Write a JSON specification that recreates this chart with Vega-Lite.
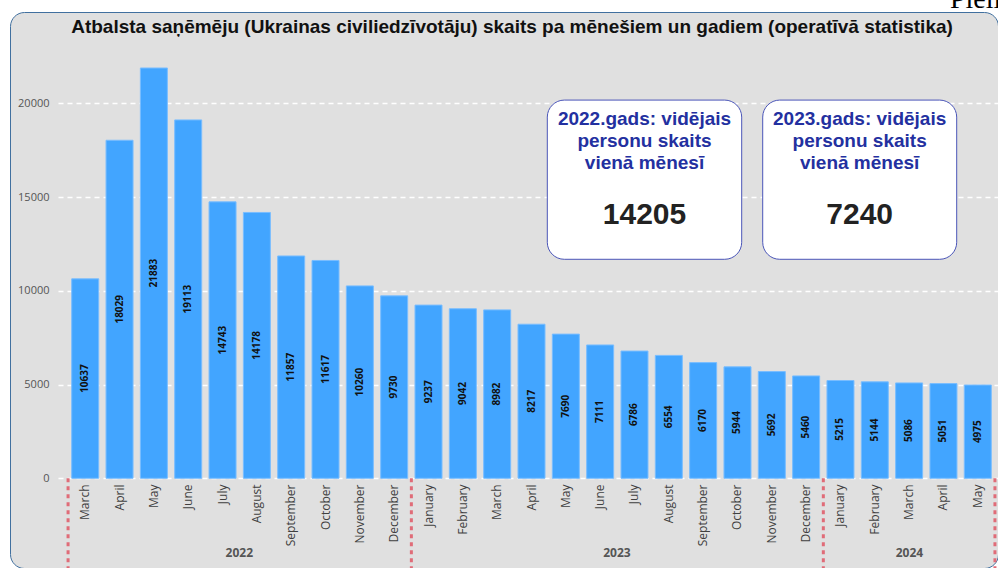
{
  "$schema": "https://vega.github.io/schema/vega-lite/v6.json",
  "width": 988,
  "height": 556,
  "autosize": {"type": "none"},
  "padding": {"left": 10, "top": 12, "right": 0, "bottom": 0},
  "background": "white",
  "title": {
    "text": "Atbalsta saņēmēju (Ukrainas civiliedzīvotāju) skaits pa mēnešiem un gadiem (operatīvā statistika)",
    "font": "Liberation Sans",
    "fontSize": 19,
    "fontWeight": "bold",
    "color": "#111111",
    "anchor": "middle",
    "frame": "group",
    "baseline": "middle",
    "offset": -60,
    "dx": 8
  },
  "config": {
    "view": {"fill": "#e0e0e0", "stroke": "#41709f", "strokeWidth": 1, "cornerRadius": 14}
  },
  "datasets": {
    "months": [
      {"key": "March 2022", "value": 10637},
      {"key": "April 2022", "value": 18029},
      {"key": "May 2022", "value": 21883},
      {"key": "June 2022", "value": 19113},
      {"key": "July 2022", "value": 14743},
      {"key": "August 2022", "value": 14178},
      {"key": "September 2022", "value": 11857},
      {"key": "October 2022", "value": 11617},
      {"key": "November 2022", "value": 10260},
      {"key": "December 2022", "value": 9730},
      {"key": "January 2023", "value": 9237},
      {"key": "February 2023", "value": 9042},
      {"key": "March 2023", "value": 8982},
      {"key": "April 2023", "value": 8217},
      {"key": "May 2023", "value": 7690},
      {"key": "June 2023", "value": 7111},
      {"key": "July 2023", "value": 6786},
      {"key": "August 2023", "value": 6554},
      {"key": "September 2023", "value": 6170},
      {"key": "October 2023", "value": 5944},
      {"key": "November 2023", "value": 5692},
      {"key": "December 2023", "value": 5460},
      {"key": "January 2024", "value": 5215},
      {"key": "February 2024", "value": 5144},
      {"key": "March 2024", "value": 5086},
      {"key": "April 2024", "value": 5051},
      {"key": "May 2024", "value": 4975}
    ]
  },
  "resolve": {"scale": {"y": "independent"}},
  "layer": [
    {
      "layer": [
        {
          "data": {"name": "months"},
          "mark": {"type": "bar", "color": "#42a5ff", "stroke": "#79bdff", "strokeWidth": 1},
          "encoding": {
            "x": {
              "field": "key",
              "type": "ordinal",
              "scale": {
                "domain": ["March 2022", "April 2022", "May 2022", "June 2022", "July 2022", "August 2022", "September 2022", "October 2022", "November 2022", "December 2022", "January 2023", "February 2023", "March 2023", "April 2023", "May 2023", "June 2023", "July 2023", "August 2023", "September 2023", "October 2023", "November 2023", "December 2023", "January 2024", "February 2024", "March 2024", "April 2024", "May 2024"],
                "paddingInner": 0.2135,
                "paddingOuter": 0.9965,
                "align": 0.902
              },
              "axis": {
                "title": null,
                "labelExpr": "split(datum.label, ' ')[0]",
                "labelAngle": -90,
                "labelFont": "Open Sans",
                "labelFontSize": 12,
                "labelColor": "#404040",
                "ticks": false,
                "tickSize": 0,
                "domain": false,
                "grid": false,
                "labelPadding": 6,
                "offset": -90
              }
            },
            "y": {
              "field": "value",
              "type": "quantitative",
              "scale": {"domain": [-4784, 24869], "nice": false, "zero": false},
              "axis": {
                "title": null,
                "values": [0, 5000, 10000, 15000, 20000],
                "format": "d",
                "offset": -48,
                "tickSize": -940,
                "tickColor": "#ffffff",
                "tickDash": [5, 4],
                "tickWidth": 1.5,
                "domain": false,
                "grid": false,
                "labelPadding": 949,
                "labelFont": "Open Sans",
                "labelFontSize": 11,
                "labelColor": "#555555"
              }
            }
          }
        },
        {
          "data": {"values": [{"k": "March 2022"}, {"k": "January 2023"}, {"k": "January 2024"}]},
          "mark": {"type": "rule", "color": "#e06c78", "strokeWidth": 3, "strokeDash": [4, 4]},
          "encoding": {
            "x": {"field": "k", "type": "ordinal", "bandPosition": -0.135, "axis": {"title": null}},
            "y": {"datum": 0, "type": "quantitative", "axis": {"title": null}},
            "y2": {"datum": -4784}
          }
        },
        {
          "data": {"values": [{"k": "May 2024"}]},
          "mark": {"type": "rule", "color": "#e06c78", "strokeWidth": 3, "strokeDash": [4, 4]},
          "encoding": {
            "x": {"field": "k", "type": "ordinal", "bandPosition": 1.135, "axis": {"title": null}},
            "y": {"datum": 0, "type": "quantitative", "axis": {"title": null}},
            "y2": {"datum": -4784}
          }
        },
        {
          "data": {"values": [{"k": "August 2022", "year": "2022"}, {"k": "July 2023", "year": "2023"}]},
          "mark": {"type": "text", "font": "Open Sans", "fontSize": 12, "fontWeight": "bold", "color": "#555555", "baseline": "middle", "align": "center"},
          "encoding": {
            "x": {"field": "k", "type": "ordinal", "bandPosition": -0.15, "axis": {"title": null}},
            "y": {"datum": -3984, "type": "quantitative", "axis": {"title": null}},
            "text": {"field": "year"}
          }
        },
        {
          "data": {"values": [{"k": "March 2024", "year": "2024"}]},
          "mark": {"type": "text", "font": "Open Sans", "fontSize": 12, "fontWeight": "bold", "color": "#555555", "baseline": "middle", "align": "center"},
          "encoding": {
            "x": {"field": "k", "type": "ordinal", "bandPosition": 0.51, "axis": {"title": null}},
            "y": {"datum": -3984, "type": "quantitative", "axis": {"title": null}},
            "text": {"field": "year"}
          }
        },
        {
          "data": {"values": [{"box": "2022"}]},
          "mark": {"type": "rect", "fill": "#ffffff", "stroke": "#4a55b8", "strokeWidth": 1, "cornerRadius": 17},
          "encoding": {
            "x": {"datum": "April 2023", "type": "ordinal", "bandPosition": 1.085, "axis": {"title": null}},
            "x2": {"datum": "October 2023", "bandPosition": 0.656},
            "y": {"datum": 20171, "type": "quantitative", "axis": {"title": null}},
            "y2": {"datum": 11680}
          }
        },
        {
          "data": {"values": [{"box": "2023"}]},
          "mark": {"type": "rect", "fill": "#ffffff", "stroke": "#4a55b8", "strokeWidth": 1, "cornerRadius": 17},
          "encoding": {
            "x": {"datum": "November 2023", "type": "ordinal", "bandPosition": 0.163, "axis": {"title": null}},
            "x2": {"datum": "April 2024", "bandPosition": 0.99},
            "y": {"datum": 20171, "type": "quantitative", "axis": {"title": null}},
            "y2": {"datum": 11680}
          }
        },
        {
          "data": {"values": [{"k": "July 2023", "head": ["2022.gads: vidējais", "personu skaits", "vienā mēnesī"]}]},
          "mark": {"type": "text", "font": "Liberation Sans", "fontSize": 19, "fontWeight": "bold", "color": "#2330a0", "baseline": "middle", "align": "center", "lineHeight": 21.7},
          "encoding": {
            "x": {"field": "k", "type": "ordinal", "bandPosition": 0.87, "axis": {"title": null}},
            "y": {"datum": 19147, "type": "quantitative", "axis": {"title": null}},
            "text": {"field": "head"}
          }
        },
        {
          "data": {"values": [{"k": "July 2023", "avg": "14205"}]},
          "mark": {"type": "text", "font": "Liberation Sans", "fontSize": 30, "fontWeight": "bold", "color": "#222222", "baseline": "middle", "align": "center"},
          "encoding": {
            "x": {"field": "k", "type": "ordinal", "bandPosition": 0.87, "axis": {"title": null}},
            "y": {"datum": 14043, "type": "quantitative", "axis": {"title": null}},
            "text": {"field": "avg"}
          }
        },
        {
          "data": {"values": [{"k": "January 2024", "head": ["2023.gads: vidējais", "personu skaits", "vienā mēnesī"]}]},
          "mark": {"type": "text", "font": "Liberation Sans", "fontSize": 19, "fontWeight": "bold", "color": "#2330a0", "baseline": "middle", "align": "center", "lineHeight": 21.7},
          "encoding": {
            "x": {"field": "k", "type": "ordinal", "bandPosition": 1.21, "axis": {"title": null}},
            "y": {"datum": 19147, "type": "quantitative", "axis": {"title": null}},
            "text": {"field": "head"}
          }
        },
        {
          "data": {"values": [{"k": "January 2024", "avg": "7240"}]},
          "mark": {"type": "text", "font": "Liberation Sans", "fontSize": 30, "fontWeight": "bold", "color": "#222222", "baseline": "middle", "align": "center"},
          "encoding": {
            "x": {"field": "k", "type": "ordinal", "bandPosition": 1.21, "axis": {"title": null}},
            "y": {"datum": 14043, "type": "quantitative", "axis": {"title": null}},
            "text": {"field": "avg"}
          }
        },
        {
          "data": {"values": [{"k": "April 2024", "t": "Pielikums"}]},
          "mark": {"type": "text", "font": "Liberation Serif", "fontSize": 28, "color": "#000000", "baseline": "alphabetic", "align": "left"},
          "encoding": {
            "x": {"field": "k", "type": "ordinal", "bandPosition": 0.74, "axis": {"title": null}},
            "y": {"datum": 25083, "type": "quantitative", "axis": {"title": null}},
            "text": {"field": "t"}
          }
        }
      ]
    },
    {
      "data": {"name": "months"},
      "mark": {"type": "text", "angle": 270, "font": "Open Sans", "fontSize": 10, "fontWeight": "bold", "color": "#111111", "align": "center", "baseline": "middle"},
      "encoding": {
        "x": {"field": "key", "type": "ordinal", "axis": {"title": null}},
        "y": {"field": "value", "type": "quantitative", "scale": {"domain": [-9568, 49738], "nice": false, "zero": false}, "axis": null},
        "text": {"field": "value", "type": "quantitative", "format": "d"}
      }
    }
  ]
}
